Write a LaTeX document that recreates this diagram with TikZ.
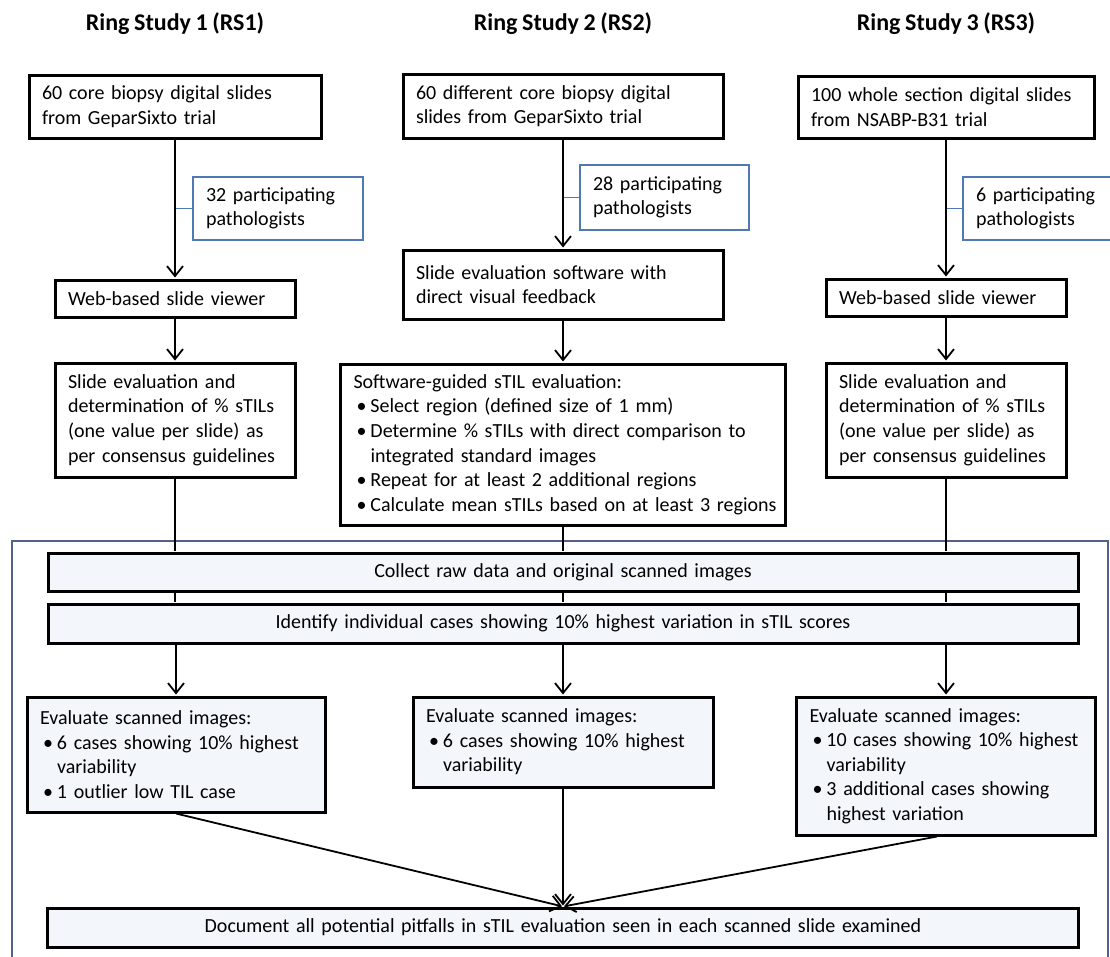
\documentclass[tikz,border=0pt]{standalone}
\usepackage{fontspec}
\setmainfont{Carlito}[WordSpace=0.85]
\usepackage{tikz}
\usetikzlibrary{arrows.meta,positioning}
\setlength{\parindent}{0pt}
\hyphenpenalty=10000
\definecolor{pathblue}{RGB}{79,120,180}
\definecolor{framegray}{RGB}{84,96,132}
\definecolor{palefill}{RGB}{243,247,252}
\newcommand{\bitem}{\hspace*{3pt}\makebox[14pt][l]{\textbullet}}
\newcommand{\bcont}{\hspace*{17pt}}

\begin{document}
\begin{tikzpicture}[x=1pt,y=-1pt,on grid,shorten >=1pt,
    >={Straight Barb[length=10pt,width=16pt]},
    every path/.style={line width=1.8pt},
    box/.style={draw,line width=3pt,fill=white,align=left,inner xsep=13pt,inner ysep=0pt,
      font=\fontsize{20}{24.6}\selectfont},
    lowbox/.style={box,fill=palefill},
    pathbox/.style={box,draw=pathblue,line width=2pt},
    title/.style={font=\fontsize{24}{28}\selectfont\bfseries}]
   \useasboundingbox (0,0) rectangle (1110,956);
   \draw[framegray,line width=2.6pt] (12,541) rectangle (1108,990);

   % ring study 1
   \node[box,text width=266pt,minimum height=63pt] (src_1) at (175,106.5)
     {60 core biopsy digital slides\\from GeparSixto trial};
   \node[title] (title_1) [above=82.5pt of src_1] {Ring Study 1 (RS1)};
   \node[pathbox,text width=144pt,minimum height=63pt] (path_1) [below right=102pt and 103pt of src_1]
     {32 participating\\pathologists};
   \node[box,text width=214pt,minimum height=37pt] (view_1) [below=192pt of src_1] {Web-based slide viewer};
   \node[box,text width=214pt,minimum height=114pt] (eval_1) [below=121.5pt of view_1]
     {Slide evaluation and\\determination of \% sTILs\\(one value per slide) as\\per consensus guidelines};

   % ring study 2
   \node[box,text width=294pt,minimum height=64pt] (src_2) at (563,106)
     {60 different core biopsy digital\\slides from GeparSixto trial};
   \node[title] (title_2) [above=82pt of src_2] {Ring Study 2 (RS2)};
   \node[pathbox,text width=143pt,minimum height=65pt] (path_2) [below right=91.5pt and 101.5pt of src_2]
     {28 participating\\pathologists};
   \node[box,text width=294pt,minimum height=69pt] (view_2) [below=178.5pt of src_2]
     {Slide evaluation software with\\direct visual feedback};
   \node[box,text width=419pt,minimum height=161pt] (eval_2) [below=160pt of view_2]
     {Software-guided sTIL evaluation:\\
      \bitem Select region (defined size of 1 mm)\\
      \bitem \mbox{Determine \% sTILs with direct comparison to}\\
      \bcont integrated standard images\\
      \bitem Repeat for at least 2 additional regions\\
      \bitem \mbox{Calculate mean sTILs based on at least 3 regions}};

   % ring study 3
   \node[box,text width=270pt,minimum height=62pt] (src_3) at (946,107)
     {100 whole section digital slides\\from NSABP-B31 trial};
   \node[title] (title_3) [above=83pt of src_3] {Ring Study 3 (RS3)};
   \node[pathbox,text width=131pt,minimum height=63pt] (path_3) [below right=101.5pt and 95.5pt of src_3]
     {6 participating\\pathologists};
   \node[box,text width=214pt,minimum height=37pt] (view_3) [below=190.5pt of src_3] {Web-based slide viewer};
   \node[box,text width=214pt,minimum height=114pt] (eval_3) [below=122.5pt of view_3]
     {Slide evaluation and\\determination of \% sTILs\\(one value per slide) as\\per consensus guidelines};

   % common part
   \node[lowbox,align=center,text width=1004pt,minimum height=38pt] (collect) at (563,572)
     {Collect raw data and original scanned images};
   \node[lowbox,align=center,text width=1004pt,minimum height=39pt] (ident) [below=51.5pt of collect]
     {Identify individual cases showing 10\% highest variation in sTIL scores};
   \node[lowbox,text width=274pt,minimum height=90pt] (scan_2) [below=118.5pt of ident]
     {Evaluate scanned images:\\
      \bitem 6 cases showing 10\% highest\\
      \bcont variability};
   \node[lowbox,text width=272pt,minimum height=115pt] (scan_1) at (176,754.5)
     {Evaluate scanned images:\\
      \bitem 6 cases showing 10\% highest\\
      \bcont variability\\
      \bitem 1 outlier low TIL case};
   \node[lowbox,text width=273pt,minimum height=138pt] (scan_3) at (946,766)
     {Evaluate scanned images:\\
      \bitem \mbox{10 cases showing 10\% highest}\\
      \bcont variability\\
      \bitem 3 additional cases showing\\
      \bcont highest variation};
   \node[lowbox,align=center,text width=1005pt,minimum height=39pt] (doc) [below=185.5pt of scan_2]
     {Document all potential pitfalls in sTIL evaluation seen in each scanned slide examined};

    \path[->]
    (src_1) edge (view_1)
    (view_1) edge (eval_1)
    (src_2) edge (view_2)
    (view_2) edge (eval_2)
    (src_3) edge (view_3)
    (view_3) edge (eval_3)
    (ident.south -| scan_1) edge (scan_1)
    (ident.south -| scan_2) edge (scan_2)
    (ident.south -| scan_3) edge (scan_3)
    (scan_1.south) edge (doc.north)
    (scan_2) edge (doc)
    ([xshift=-9pt]scan_3.south) edge (doc.north);
    \path[-,pathblue,line width=1.4pt]
    (path_1.west) edge (path_1.west -| src_1)
    (path_2.west) edge (path_2.west -| src_2)
    (path_3.west) edge (path_3.west -| src_3);
    \path[-]
    (eval_1) edge (eval_1 |- collect.north)
    (eval_2) edge (eval_2 |- collect.north)
    (eval_3) edge (eval_3 |- collect.north)
    (collect.south -| eval_1) edge (ident.north -| eval_1)
    (collect.south -| eval_2) edge (ident.north -| eval_2)
    (collect.south -| eval_3) edge (ident.north -| eval_3);
\end{tikzpicture}
\end{document}
